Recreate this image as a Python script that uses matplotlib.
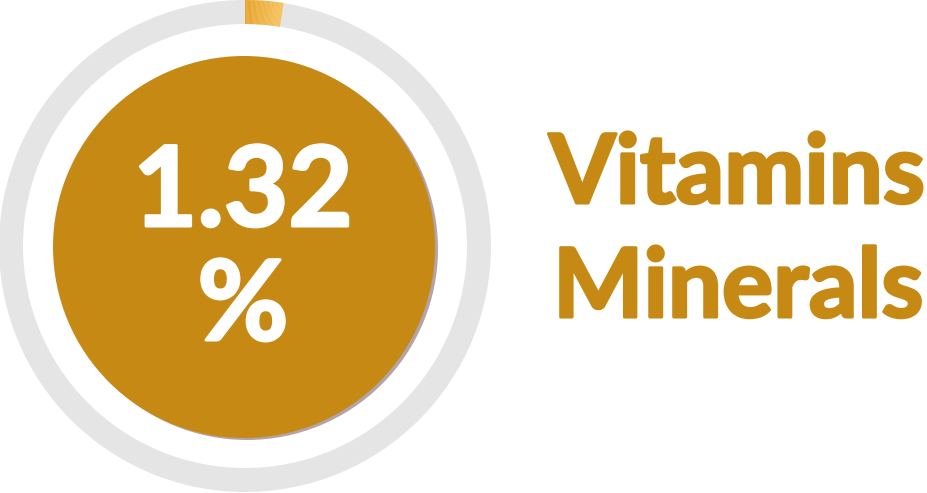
import matplotlib
matplotlib.use('Agg')
import matplotlib.pyplot as plt
import matplotlib.patheffects as pe
from matplotlib.patches import Wedge, Circle
import numpy as np

# values
label_value = '1.32'
ring_share = [2.5, 97.5]          # orange part of ring, as drawn
category_lines = ['Vitamins', 'Minerals']

gold = '#C68A14'
ring_grey = '#E5E5E5'
shadow = '#B4A3A7'

fig = plt.figure(figsize=(9.28, 4.93), dpi=100)
ax = fig.add_axes([0, 0, 1, 1])
ax.set_xlim(0, 928)
ax.set_ylim(493, 0)
ax.set_aspect('equal')
ax.axis('off')

cx, cy = 245, 246
r_out, width = 246, 24

# grey ring
ax.add_patch(Wedge((cx, cy), r_out, 0, 360, width=width, color=ring_grey, lw=0))

# orange segment with a small gradient, clockwise from 12 o'clock
# (y axis inverted -> angles go clockwise on screen)
start = -90
span = ring_share[0] / sum(ring_share) * 360
steps = 30
c0 = np.array(matplotlib.colors.to_rgb('#E8A42C'))
c1 = np.array(matplotlib.colors.to_rgb('#F8C35C'))
for i in range(steps):
    a0 = start + span * i / steps
    a1 = start + span * (i + 1) / steps + 0.05
    col = c0 + (c1 - c0) * i / (steps - 1)
    ax.add_patch(Wedge((cx, cy), r_out, a0, a1, width=width, color=col, lw=0))

# inner circle with shadow
ax.add_patch(Circle((cx + 2, cy + 3), 191, color=shadow, lw=0))
ax.add_patch(Circle((cx - 1, cy + 1), 191, color=gold, lw=0))

# bold look: thicken glyphs with a stroke in the same colour
thick_w = [pe.withStroke(linewidth=2.2, foreground='white')]
thick_g = [pe.withStroke(linewidth=2.2, foreground=gold)]

ax.text(cx - 2, 226, label_value, color='white', fontsize=80, fontweight='bold',
        family='Lato', ha='center', va='baseline', path_effects=thick_w)
ax.text(cx - 2, 340, '%', color='white', fontsize=80, fontweight='bold',
        family='Lato', ha='center', va='baseline', path_effects=thick_w)

ax.text(549, 203, category_lines[0], color=gold, fontsize=69, fontweight='bold',
        family='Lato', ha='left', va='baseline', path_effects=thick_g)
ax.text(553, 317, category_lines[1], color=gold, fontsize=69, fontweight='bold',
        family='Lato', ha='left', va='baseline', path_effects=thick_g)

fig.savefig('out.png', dpi=100)
